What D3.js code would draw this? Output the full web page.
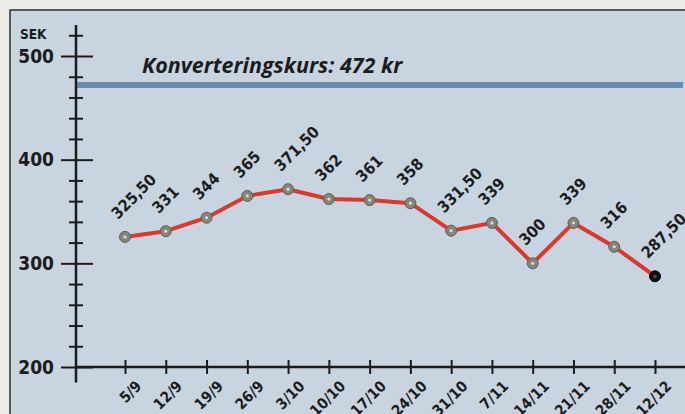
<!DOCTYPE html>
<html>
<head>
<meta charset="utf-8">
<script src="https://cdn.jsdelivr.net/npm/d3@7"></script>
<style>
  body { margin: 0; background: #ecebe6; }
  svg { display: block; }
  .num { font-family: "DejaVu Sans Condensed", "Liberation Sans Narrow", sans-serif; font-weight: bold; fill: #1c1c1c; }
</style>
</head>
<body>
<svg class="kurs" width="685" height="414"></svg>
<script>
var dates = ['5/9', '12/9', '19/9', '26/9', '3/10', '10/10', '17/10', '24/10', '31/10', '7/11', '14/11', '21/11', '28/11', '12/12'];
var prices = [325.5, 331, 344, 365, 371.5, 362, 361, 358, 331.5, 339, 300, 339, 316, 287.5];
var priceLabels = ['325,50', '331', '344', '365', '371,50', '362', '361', '358', '331,50', '339', '300', '339', '316', '287,50'];
var yTicks = [200, 300, 400, 500];
var conversion = 472;

var svg = d3.select('svg.kurs');

// panel
svg.append('rect')
  .attr('x', 10).attr('y', 10)
  .attr('width', 690).attr('height', 420)
  .attr('fill', '#c8d5e1')
  .attr('stroke', '#2e2e2e')
  .attr('stroke-width', 1.5);

var x = d3.scalePoint().domain(dates).range([125, 655]);
var y = d3.scaleLinear().domain([200, 500]).range([367, 56]);
var axisX = 76;

// conversion rate line
svg.append('line')
  .attr('x1', axisX).attr('x2', 683)
  .attr('y1', y(conversion)).attr('y2', y(conversion))
  .attr('stroke', '#6b8db0')
  .attr('stroke-width', 6);

svg.append('text')
  .attr('x', 142).attr('y', 73)
  .attr('font-family', '"Open Sans", sans-serif')
  .attr('font-style', 'italic')
  .attr('font-weight', 'bold')
  .attr('font-size', 21.5)
  .attr('fill', '#1c1c1c')
  .text('Konverteringskurs: ' + conversion + ' kr');

// y axis
var yAxis = svg.append('g')
  .attr('transform', 'translate(' + axisX + ',0)')
  .call(d3.axisLeft(y).tickValues(d3.range(200, 521, 20)).tickFormat(function(d) {
    return yTicks.indexOf(d) >= 0 ? d : '';
  }));
yAxis.select('.domain').remove();
yAxis.selectAll('.tick line')
  .attr('stroke', '#1c1c1c')
  .attr('stroke-width', 2)
  .attr('x1', function(d) { return yTicks.indexOf(d) >= 0 ? -15 : -7; })
  .attr('x2', function(d) { return yTicks.indexOf(d) >= 0 ? 17 : 7; });
yAxis.selectAll('.tick text')
  .attr('class', 'num')
  .attr('x', -22)
  .attr('font-size', 19);
yAxis.append('line')
  .attr('y1', y(185)).attr('y2', y(530))
  .attr('stroke', '#1c1c1c').attr('stroke-width', 2.5);

svg.append('text')
  .attr('class', 'num')
  .attr('x', 20).attr('y', 39)
  .attr('font-size', 13.5)
  .text('SEK');

// x axis
var xAxis = svg.append('g')
  .attr('transform', 'translate(0,' + y(200) + ')')
  .call(d3.axisBottom(x).tickSize(0));
xAxis.select('.domain').remove();
xAxis.append('line')
  .attr('x1', axisX).attr('x2', 685)
  .attr('stroke', '#1c1c1c').attr('stroke-width', 2.5);
xAxis.selectAll('.tick line')
  .attr('y1', -7).attr('y2', 7)
  .attr('stroke', '#1c1c1c').attr('stroke-width', 2);
xAxis.selectAll('.tick text')
  .attr('class', 'num')
  .attr('font-size', 15)
  .attr('text-anchor', 'end')
  .attr('dy', 0)
  .attr('transform', 'translate(17,20) rotate(-45)')
  .attr('x', 0).attr('y', 0);

// price line
var line = d3.line()
  .x(function(d, i) { return x(dates[i]); })
  .y(function(d) { return y(d); });

svg.append('path')
  .datum(prices)
  .attr('d', line)
  .attr('fill', 'none')
  .attr('stroke', '#d93a2e')
  .attr('stroke-width', 4)
  .attr('stroke-linejoin', 'round');

var pts = svg.append('g').selectAll('g')
  .data(prices)
  .enter()
  .append('g')
  .attr('transform', function(d, i) { return 'translate(' + x(dates[i]) + ',' + y(d) + ')'; });

pts.append('circle')
  .attr('r', 5.5)
  .attr('fill', function(d, i) { return i === prices.length - 1 ? '#111' : '#85857a'; })
  .attr('stroke', function(d, i) { return i === prices.length - 1 ? '#000' : '#5e5e58'; })
  .attr('stroke-width', 1);
pts.append('circle')
  .attr('r', 1.6)
  .attr('fill', function(d, i) { return i === prices.length - 1 ? '#555' : '#d8d8cc'; });

pts.append('text')
  .attr('class', 'num')
  .attr('font-size', 16)
  .attr('transform', 'translate(-7,-17) rotate(-45)')
  .text(function(d, i) { return priceLabels[i]; });
</script>
</body>
</html>
